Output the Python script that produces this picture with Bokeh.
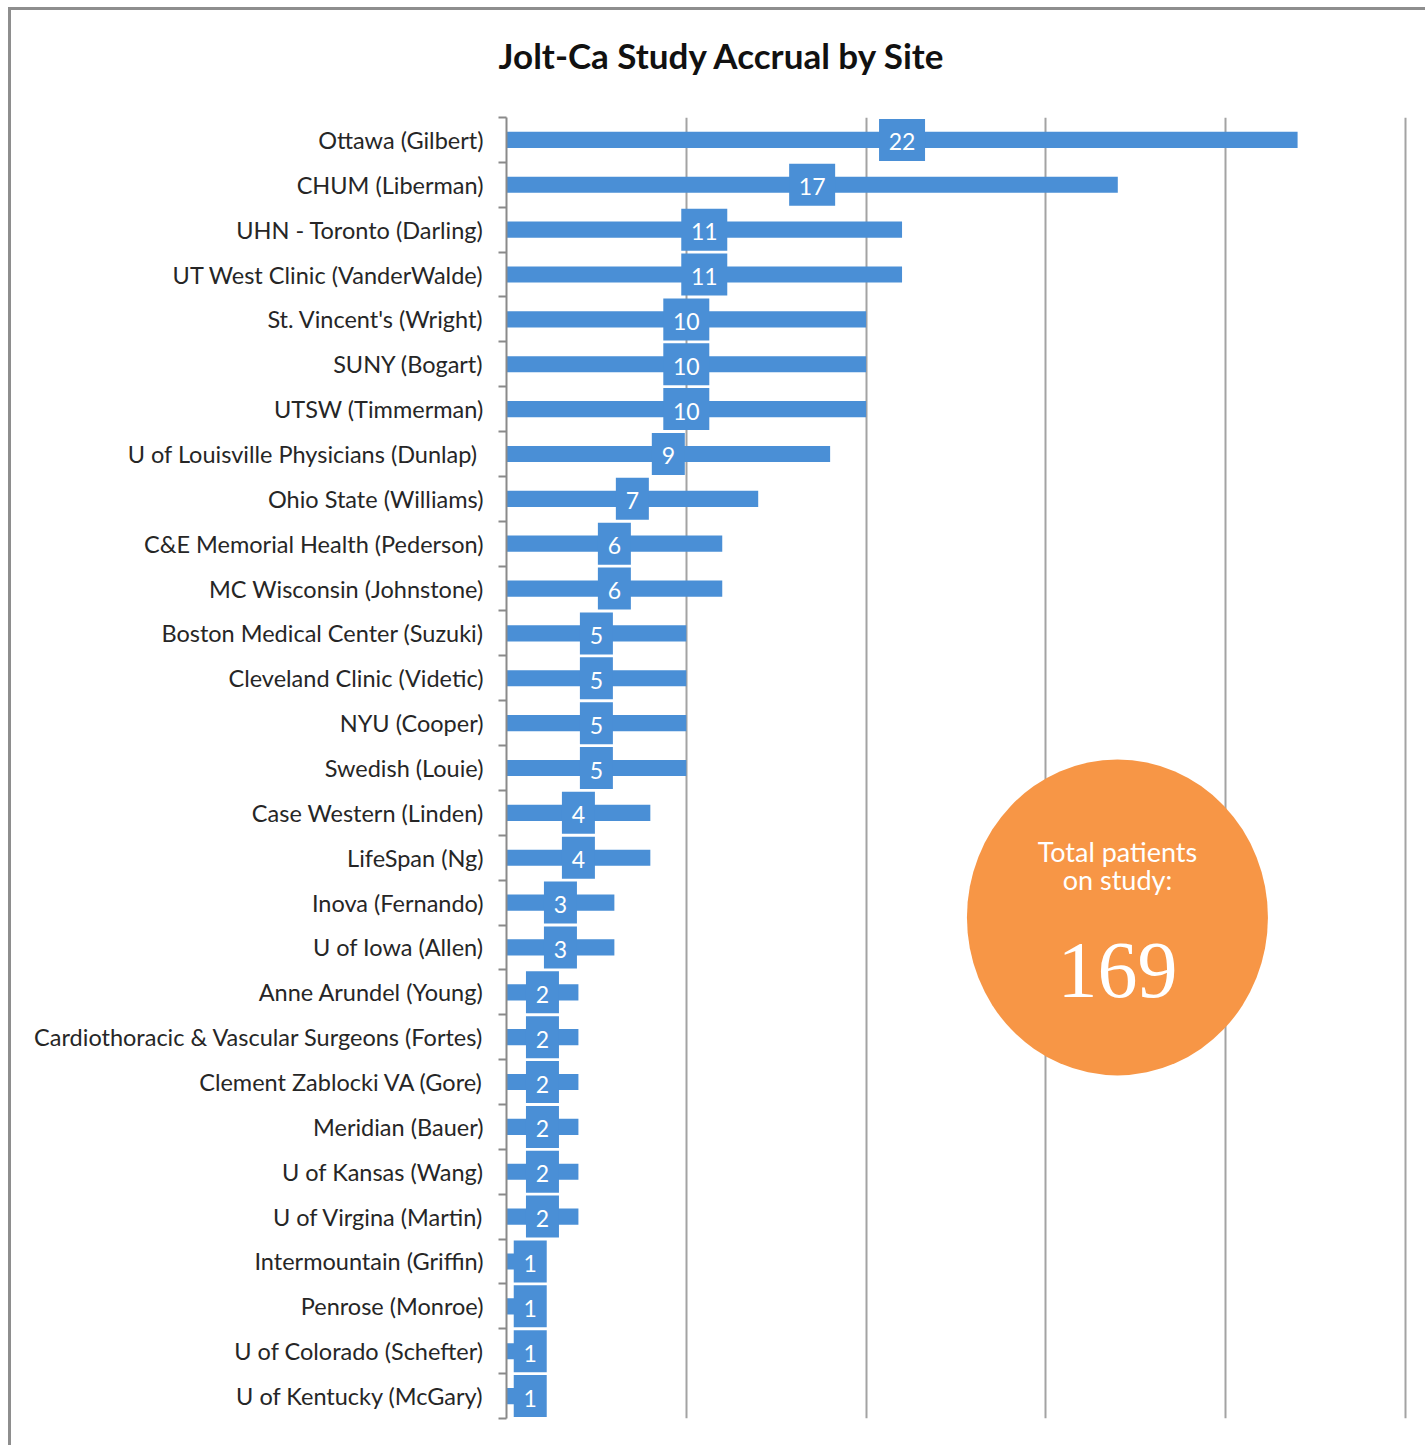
import numpy as np
from bokeh.plotting import figure
from bokeh.models import Range1d, FixedTicker, ColumnDataSource, Div
from bokeh.layouts import column
from bokeh.core.properties import value
from bokeh.embed import file_html
from bokeh.resources import INLINE

sites = [
    "Ottawa (Gilbert)", "CHUM (Liberman)", "UHN - Toronto (Darling)",
    "UT West Clinic (VanderWalde)", "St. Vincent's (Wright)", "SUNY (Bogart)",
    "UTSW (Timmerman)", "U of Louisville  Physicians (Dunlap)", "Ohio State (Williams)",
    "C&E Memorial Health (Pederson)", "MC Wisconsin (Johnstone)",
    "Boston Medical Center (Suzuki)", "Cleveland Clinic (Videtic)", "NYU (Cooper)",
    "Swedish (Louie)", "Case Western (Linden)", "LifeSpan (Ng)", "Inova (Fernando)",
    "U of Iowa (Allen)", "Anne Arundel (Young)",
    "Cardiothoracic & Vascular Surgeons (Fortes)", "Clement Zablocki VA (Gore)",
    "Meridian (Bauer)", "U of Kansas (Wang)", "U of Virgina (Martin)",
    "Intermountain (Griffin)", "Penrose (Monroe)", "U of Colorado (Schefter)",
    "U of Kentucky (McGary)",
]
accrual = [22, 17, 11, 11, 10, 10, 10, 9, 7, 6, 6, 5, 5, 5, 5, 4, 4, 3, 3,
           2, 2, 2, 2, 2, 2, 1, 1, 1, 1]
grid_ticks = [5, 10, 15, 20, 25]
title_text = "Jolt-Ca Study Accrual by Site"

n = len(sites)
vals = np.array(accrual, dtype=float)
ys = np.arange(n - 1, -1, -1, dtype=float)
total = int(vals.sum())

BLUE = "#4a8fd6"
SHIFT_X, SHIFT_Y = 11, 10
W = 1425 - SHIFT_X
TOP_PAD = 6
DIV_H = 117 - SHIFT_Y - TOP_PAD
H = 1445 - SHIFT_Y - DIV_H

title_div = Div(text=title_text, width=W, height=DIV_H,
                styles={"font-family": "Lato", "font-weight": "bold",
                        "font-size": "35px", "line-height": "90px",
                        "color": "#111111", "text-align": "center",
                        "text-indent": "6px", "padding": "0px", "margin": "0px",
                        "background": "white", "overflow": "hidden"})

p = figure(width=W, height=H, output_backend="svg", toolbar_location=None,
           x_range=Range1d(0, 25.14), y_range=Range1d(-0.5, n - 0.5),
           min_border_left=506 - SHIFT_X, min_border_right=1425 - 1410,
           min_border_top=TOP_PAD, min_border_bottom=1445 - 1418)
p.outline_line_color = None
p.background_fill_color = "white"
p.border_fill_color = "white"

p.xaxis.visible = False
p.xgrid.ticker = FixedTicker(ticks=grid_ticks)
p.xgrid.grid_line_color = "#a3a3a3"
p.xgrid.grid_line_width = 2
p.ygrid.visible = False

ax = p.yaxis[0]
ax.ticker = FixedTicker(ticks=list(ys), minor_ticks=list(np.arange(-0.5, n, 1.0)))
ax.major_label_overrides = {float(y): s for y, s in zip(ys, sites)}
ax.major_tick_out = 0
ax.major_tick_in = 0
ax.minor_tick_out = 8
ax.minor_tick_in = 0
ax.minor_tick_line_color = "#8a8a8a"
ax.minor_tick_line_width = 2
ax.axis_line_color = "#8a8a8a"
ax.axis_line_width = 2
ax.major_label_standoff = 15
ax.major_label_text_font = "Lato"
ax.major_label_text_font_size = "23.5px"
ax.major_label_text_color = "#262626"

src = ColumnDataSource(dict(
    y=ys, v=vals,
    cx=np.maximum(vals / 2.0, 0.66),
    bw=[20 + 13 * len(str(int(v))) for v in vals],
    txt=[str(int(v)) for v in vals],
))
p.hbar(y="y", left=0, right="v", height=0.36, source=src,
       fill_color=BLUE, line_color=None)
p.rect(x="cx", y="y", width="bw", height=42, width_units="screen",
       height_units="screen", source=src, fill_color=BLUE, line_color=None)
p.text(x="cx", y="y", text="txt", source=src, text_color="white",
       text_font=value("Lato"), text_font_size="23px",
       text_align="center", text_baseline="middle", y_offset=2)

# total badge
cx, cy = 16.99, 10.67
p.ellipse(x=[cx], y=[cy], width=[301], height=[316], width_units="screen",
          height_units="screen", fill_color="#f79646", line_color=None)
p.text(x=[cx, cx], y=[cy, cy], text=["Total patients", "on study:"],
       y_offset=[-66, -38], text_color="white", text_font=value("Lato"),
       text_font_size="27px", text_align="center", text_baseline="middle")
p.text(x=[cx], y=[cy], text=[str(total)], y_offset=[53], text_color="white",
       text_font=value("Liberation Serif"), text_font_size="80px",
       text_align="center", text_baseline="middle")

layout = column(title_div, p, spacing=0,
                styles={"border-left": "3px solid #8e8e8e",
                        "border-top": "3px solid #8e8e8e",
                        "margin-left": "8px", "margin-top": "7px",
                        "background": "white"})

open("out.html", "w").write(file_html(layout, INLINE))
